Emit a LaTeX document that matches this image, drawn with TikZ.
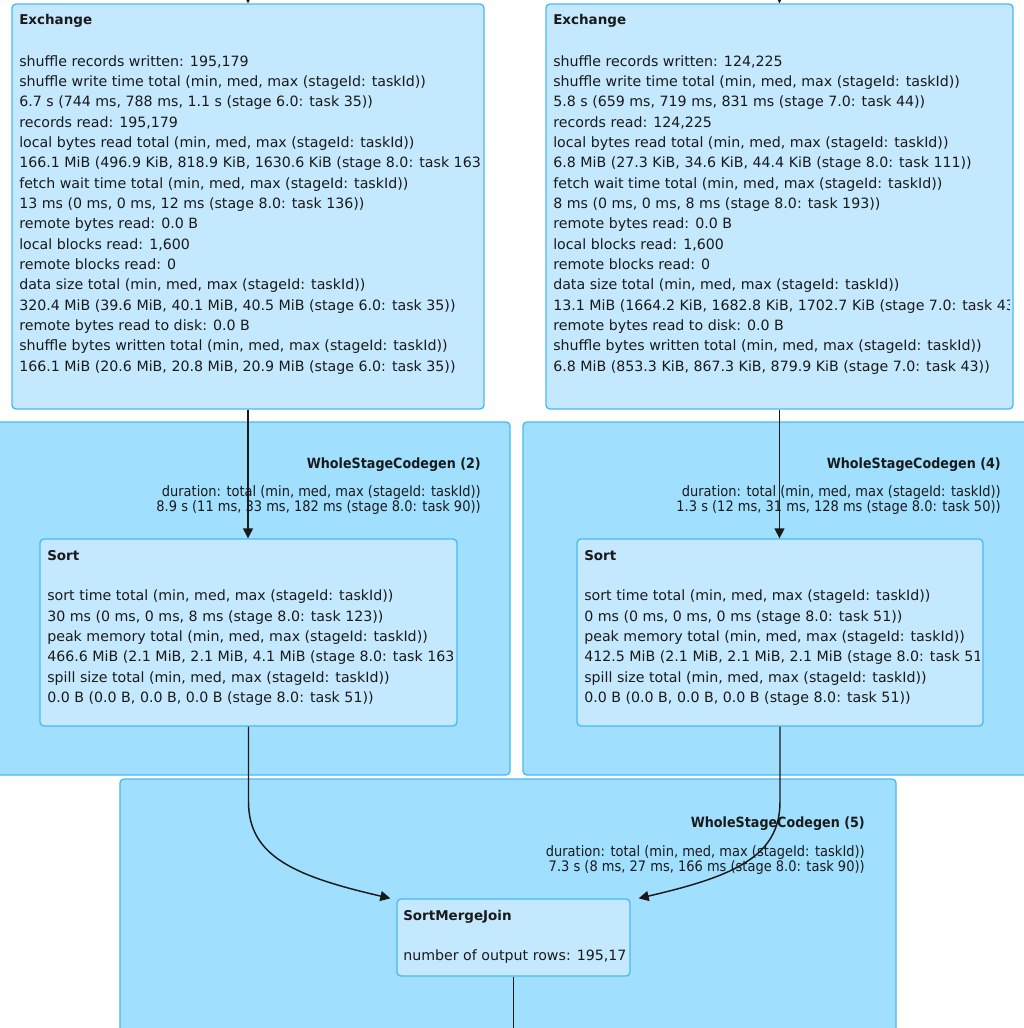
\documentclass[tikz,border=0pt]{standalone}
\usepackage{fontspec}
\setmainfont{DejaVu Sans}
\newfontfamily\condfont[FakeStretch=0.9]{DejaVu Sans}
\usetikzlibrary{arrows.meta,fit,calc}
\definecolor{boxfill}{HTML}{C4E9FE}
\definecolor{clfill}{HTML}{A1DFFE}
\definecolor{bord}{HTML}{48B8F6}
\definecolor{ink}{HTML}{1A1A1A}
\begin{document}
\begin{tikzpicture}[x=0.75pt,y=-0.75pt,
  cluster/.style={draw=bord, fill=clfill, line width=1pt, rounded corners=3pt, inner sep=0pt},
  opbox/.style={draw=bord, fill=boxfill, line width=1pt, rounded corners=3pt, inner sep=0pt},
  optitle/.style={font=\fontsize{10.1}{12}\selectfont\bfseries, text=ink, inner sep=0pt, anchor=base west},
  metric/.style={font=\fontsize{10.65}{15.25}\selectfont, text=ink, inner sep=0pt, align=left, anchor=north west},
  metricline/.style={font=\fontsize{10.65}{15.25}\selectfont, text=ink, inner sep=0pt, anchor=base west},
  cltitle/.style={font=\condfont\fontsize{10.6}{12}\selectfont\bfseries, text=ink, inner sep=0pt, anchor=base east},
  dur/.style={font=\condfont\fontsize{10.84}{12}\selectfont, text=ink, inner sep=0pt, anchor=base east},
  arr/.style={draw=ink, line width=1.1pt, -{Triangle[length=7.5pt,width=7.5pt]}},
  plainline/.style={draw=ink, line width=1.1pt}]
\fill[white] (0,0) rectangle (1024,1028);
\useasboundingbox (0,0) rectangle (1024,1028);

% clusters
\node[cluster, fit={(-10,422) (510,775)}] (wsc2) {};
\node[cluster, fit={(523,422) (1040,775)}] (wsc4) {};
\node[cluster, fit={(120,779) (896,1045)}] (wsc5) {};

\node[cltitle] (wsc2t) at (481,468.3) {WholeStageCodegen (2)};
\node[dur] (wsc2a) at (481,496.7) {duration: total (min, med, max (stageId: taskId))};
\node[dur] (wsc2b) at (481,511.7) {8.9 s (11 ms, 33 ms, 182 ms (stage 8.0: task 90))};

\node[cltitle] (wsc4t) at (1001,468.3) {WholeStageCodegen (4)};
\node[dur] (wsc4a) at (1001,496.7) {duration: total (min, med, max (stageId: taskId))};
\node[dur] (wsc4b) at (1001,511.7) {1.3 s (12 ms, 31 ms, 128 ms (stage 8.0: task 50))};

\node[cltitle] (wsc5t) at (865,827.5) {WholeStageCodegen (5)};
\node[dur] (wsc5a) at (865,856) {duration: total (min, med, max (stageId: taskId))};
\node[dur] (wsc5b) at (865,871) {7.3 s (8 ms, 27 ms, 166 ms (stage 8.0: task 90))};

% operator boxes
\node[opbox, fit={(12,4) (484,409)}] (ex1) {};
\node[opbox, fit={(546,4) (1013,409)}] (ex2) {};
\node[opbox, fit={(40,539) (457,726)}] (sort1) {};
\node[opbox, fit={(577,539) (983,726)}] (sort2) {};
\node[opbox, fit={(397,899) (630,976)}] (smj) {};

\begin{scope}
\clip (ex1.north west) rectangle ($(ex1.south east)+(-4,0)$);
\node[optitle] (ex1t) at (19,24) {Exchange};
\node[metric] (ex1m) at (19,55) {shuffle records written: 195,179\\
shuffle write time total (min, med, max (stageId: taskId))\\
6.7 s (744 ms, 788 ms, 1.1 s (stage 6.0: task 35))\\
records read: 195,179\\
local bytes read total (min, med, max (stageId: taskId))\\
166.1 MiB (496.9 KiB, 818.9 KiB, 1630.6 KiB (stage 8.0: task 163))\\
fetch wait time total (min, med, max (stageId: taskId))\\
13 ms (0 ms, 0 ms, 12 ms (stage 8.0: task 136))\\
remote bytes read: 0.0 B\\
local blocks read: 1,600\\
remote blocks read: 0\\
data size total (min, med, max (stageId: taskId))\\
320.4 MiB (39.6 MiB, 40.1 MiB, 40.5 MiB (stage 6.0: task 35))\\
remote bytes read to disk: 0.0 B\\
shuffle bytes written total (min, med, max (stageId: taskId))\\
166.1 MiB (20.6 MiB, 20.8 MiB, 20.9 MiB (stage 6.0: task 35))};
\end{scope}

\begin{scope}
\clip (ex2.north west) rectangle ($(ex2.south east)+(-4,0)$);
\node[optitle] (ex2t) at (553,24) {Exchange};
\node[metric] (ex2m) at (553,55) {shuffle records written: 124,225\\
shuffle write time total (min, med, max (stageId: taskId))\\
5.8 s (659 ms, 719 ms, 831 ms (stage 7.0: task 44))\\
records read: 124,225\\
local bytes read total (min, med, max (stageId: taskId))\\
6.8 MiB (27.3 KiB, 34.6 KiB, 44.4 KiB (stage 8.0: task 111))\\
fetch wait time total (min, med, max (stageId: taskId))\\
8 ms (0 ms, 0 ms, 8 ms (stage 8.0: task 193))\\
remote bytes read: 0.0 B\\
local blocks read: 1,600\\
remote blocks read: 0\\
data size total (min, med, max (stageId: taskId))\\
13.1 MiB (1664.2 KiB, 1682.8 KiB, 1702.7 KiB (stage 7.0: task 43))\\
remote bytes read to disk: 0.0 B\\
shuffle bytes written total (min, med, max (stageId: taskId))\\
6.8 MiB (853.3 KiB, 867.3 KiB, 879.9 KiB (stage 7.0: task 43))};
\end{scope}

\begin{scope}
\clip (sort1.north west) rectangle ($(sort1.south east)+(-5,0)$);
\node[optitle] (sort1t) at (47,560.5) {Sort};
\node[metric] (sort1m) at (47,589.8) {sort time total (min, med, max (stageId: taskId))\\
30 ms (0 ms, 0 ms, 8 ms (stage 8.0: task 123))\\
peak memory total (min, med, max (stageId: taskId))\\
466.6 MiB (2.1 MiB, 2.1 MiB, 4.1 MiB (stage 8.0: task 163))\\
spill size total (min, med, max (stageId: taskId))\\
0.0 B (0.0 B, 0.0 B, 0.0 B (stage 8.0: task 51))};
\end{scope}

\begin{scope}
\clip (sort2.north west) rectangle ($(sort2.south east)+(-4,0)$);
\node[optitle] (sort2t) at (584,560.5) {Sort};
\node[metric] (sort2m) at (584,589.8) {sort time total (min, med, max (stageId: taskId))\\
0 ms (0 ms, 0 ms, 0 ms (stage 8.0: task 51))\\
peak memory total (min, med, max (stageId: taskId))\\
412.5 MiB (2.1 MiB, 2.1 MiB, 2.1 MiB (stage 8.0: task 51))\\
spill size total (min, med, max (stageId: taskId))\\
0.0 B (0.0 B, 0.0 B, 0.0 B (stage 8.0: task 51))};
\end{scope}

\begin{scope}
\clip (smj.north west) rectangle ($(smj.south east)+(-4,0)$);
\node[optitle] (smjt) at (403,920) {SortMergeJoin};
\node[metricline] (smjm) at (403,960) {number of output rows: 195,179};
\end{scope}

% connectors
\coordinate (in1) at (248,-40);
\coordinate (in2) at (779.5,-40);
\coordinate (out) at (513.5,1060);
\draw[arr] (in1) -- (ex1.north);
\draw[arr] (in2) -- (ex2.north);
\draw[arr] (ex1.south) -- (ex1.south |- sort1.north);
\draw[arr] (ex2.south) -- (ex2.south |- sort2.north);
\draw[arr] (sort1.south) -- ++(0,75) .. controls +(0,55) and +(-95,-22) .. ($(smj.north west)+(-6,0)$);
\draw[arr] (sort2.south) -- ++(0,75) .. controls +(0,55) and +(95,-22) .. ($(smj.north east)+(8,0)$);
\draw[plainline] (smj.south) -- (out);
\end{tikzpicture}
\end{document}
